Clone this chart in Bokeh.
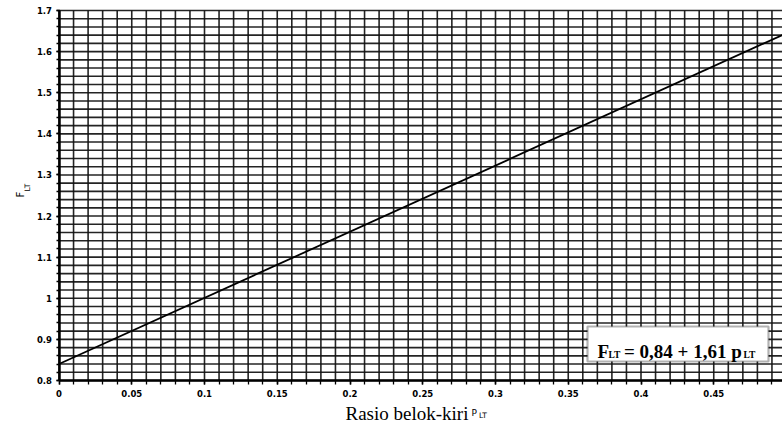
import numpy as np
from bokeh.plotting import figure
from bokeh.models import FixedTicker, CustomJSTickFormatter, Range1d, Label, BoxAnnotation
from bokeh.embed import file_html
from bokeh.resources import INLINE

# ---- data ----
p_lt = [0.0, 0.5]
f_lt = [0.84, 1.645]

x_ticks = [0.0, 0.05, 0.1, 0.15, 0.2, 0.25, 0.3, 0.35, 0.4, 0.45, 0.5]
x_tick_labels = ["0", "0.05", "0.1", "0.15", "0.2", "0.25", "0.3", "0.35", "0.4", "0.45", "0.5"]
y_ticks = [0.8, 0.9, 1.0, 1.1, 1.2, 1.3, 1.4, 1.5, 1.6, 1.7]
y_tick_labels = ["0.8", "0.9", "1", "1.1", "1.2", "1.3", "1.4", "1.5", "1.6", "1.7"]

x_minor = [round(v, 2) for v in np.arange(0, 0.5001, 0.01)]
y_minor = [round(v, 2) for v in np.arange(0.8, 1.7001, 0.02)]

# ---- layout helpers (page pixel -> data) ----
W, H = 782, 423
X0, PXX = 58.5, 1455.0          # page x of p=0, px per unit
Y0, PXY = 10.0, 370.0 / 0.9     # page y of F=1.7, px per unit
def fx(px):
    return (px - X0) / PXX
def fy(py):
    return 1.7 - (py - Y0) / PXY

p = figure(width=W, height=H, output_backend="svg", toolbar_location=None,
           x_range=Range1d(fx(0), fx(W)), y_range=Range1d(fy(H), fy(0)),
           min_border=0)
p.min_border_left = 0
p.min_border_right = 0
p.min_border_top = 0
p.min_border_bottom = 0
p.outline_line_color = None
p.background_fill_color = "white"
p.border_fill_color = "white"
p.grid.visible = False

fmt_code = """
let best = 0;
for (let i = 0; i < tv.length; i++) {
  if (Math.abs(tv[i] - tick) < Math.abs(tv[best] - tick)) best = i;
}
return lbls[best];
"""
p.xaxis.ticker = FixedTicker(ticks=x_ticks, minor_ticks=x_minor)
p.yaxis.ticker = FixedTicker(ticks=y_ticks, minor_ticks=y_minor)
p.xaxis.formatter = CustomJSTickFormatter(args=dict(tv=x_ticks, lbls=x_tick_labels), code=fmt_code)
p.yaxis.formatter = CustomJSTickFormatter(args=dict(tv=y_ticks, lbls=y_tick_labels), code=fmt_code)
p.xaxis.fixed_location = y_ticks[0]
p.yaxis.fixed_location = x_ticks[0]
p.xaxis.bounds = (x_ticks[0], x_ticks[-1])
p.yaxis.bounds = (y_ticks[0], y_ticks[-1])

for ax in (p.xaxis, p.yaxis):
    ax.axis_line_color = "black"
    ax.axis_line_width = 2.5
    ax.major_tick_line_color = "black"
    ax.major_tick_line_width = 1.5
    ax.minor_tick_line_color = "black"
    ax.minor_tick_line_width = 1.3
    ax.major_tick_in = 0
    ax.minor_tick_in = 0
    ax.major_label_text_font = "DejaVu Sans"
    ax.major_label_text_font_style = "bold"
    ax.major_label_text_font_size = "8.5px"
    ax.major_label_text_color = "black"
p.xaxis.major_tick_out = 4
p.xaxis.minor_tick_out = 4
p.xaxis.major_label_standoff = 5
p.yaxis.major_tick_out = 3
p.yaxis.minor_tick_out = 3
p.yaxis.major_label_standoff = 4

# grid lines drawn from the tick lists (uniform, like the printed chart paper)
nxm, nym = len(x_minor), len(y_minor)
p.segment(x0=x_minor, x1=x_minor, y0=[y_ticks[0]] * nxm, y1=[y_ticks[-1]] * nxm,
          line_color="#111111", line_width=1.6, line_alpha=0.92)
p.segment(x0=[x_ticks[0]] * nym, x1=[x_ticks[-1]] * nym, y0=y_minor, y1=y_minor,
          line_color="#111111", line_width=1.6, line_alpha=0.92)

p.line(p_lt, f_lt, line_color="black", line_width=1.8)

# equation box
p.add_layout(BoxAnnotation(left=fx(587), right=fx(768), top=fy(326), bottom=fy(361),
                           fill_color="white", fill_alpha=1.0,
                           line_color="black", line_width=2.2))

def lab(txt, px, py, size, font="Liberation Serif", style="normal", angle=0.0):
    p.add_layout(Label(x=fx(px), y=fy(py), text=txt, text_font=font,
                       text_font_size=size, text_font_style=style, text_color="black",
                       text_align="left", text_baseline="alphabetic", angle=angle))

# equation text
lab("F", 597, 351, "19px", style="bold")
lab("LT", 608, 354, "9.5px", style="bold")
lab("= 0,84 + 1,61 p", 623.5, 351, "19px", style="bold")
lab("LT", 743, 354, "9.5px", style="bold")

# x axis title
lab("Rasio belok-kiri", 345, 413, "19px")
lab("P", 471, 412, "9px", font="DejaVu Sans")
lab("LT", 478.5, 414.5, "7.5px", font="DejaVu Sans")

# y axis title (rotated)
lab("F", 20, 197, "10px", font="DejaVu Sans", angle=np.pi / 2)
lab("LT", 27, 191, "7.5px", font="DejaVu Sans", angle=np.pi / 2)

open("out.html", "w").write(file_html(p, INLINE))
